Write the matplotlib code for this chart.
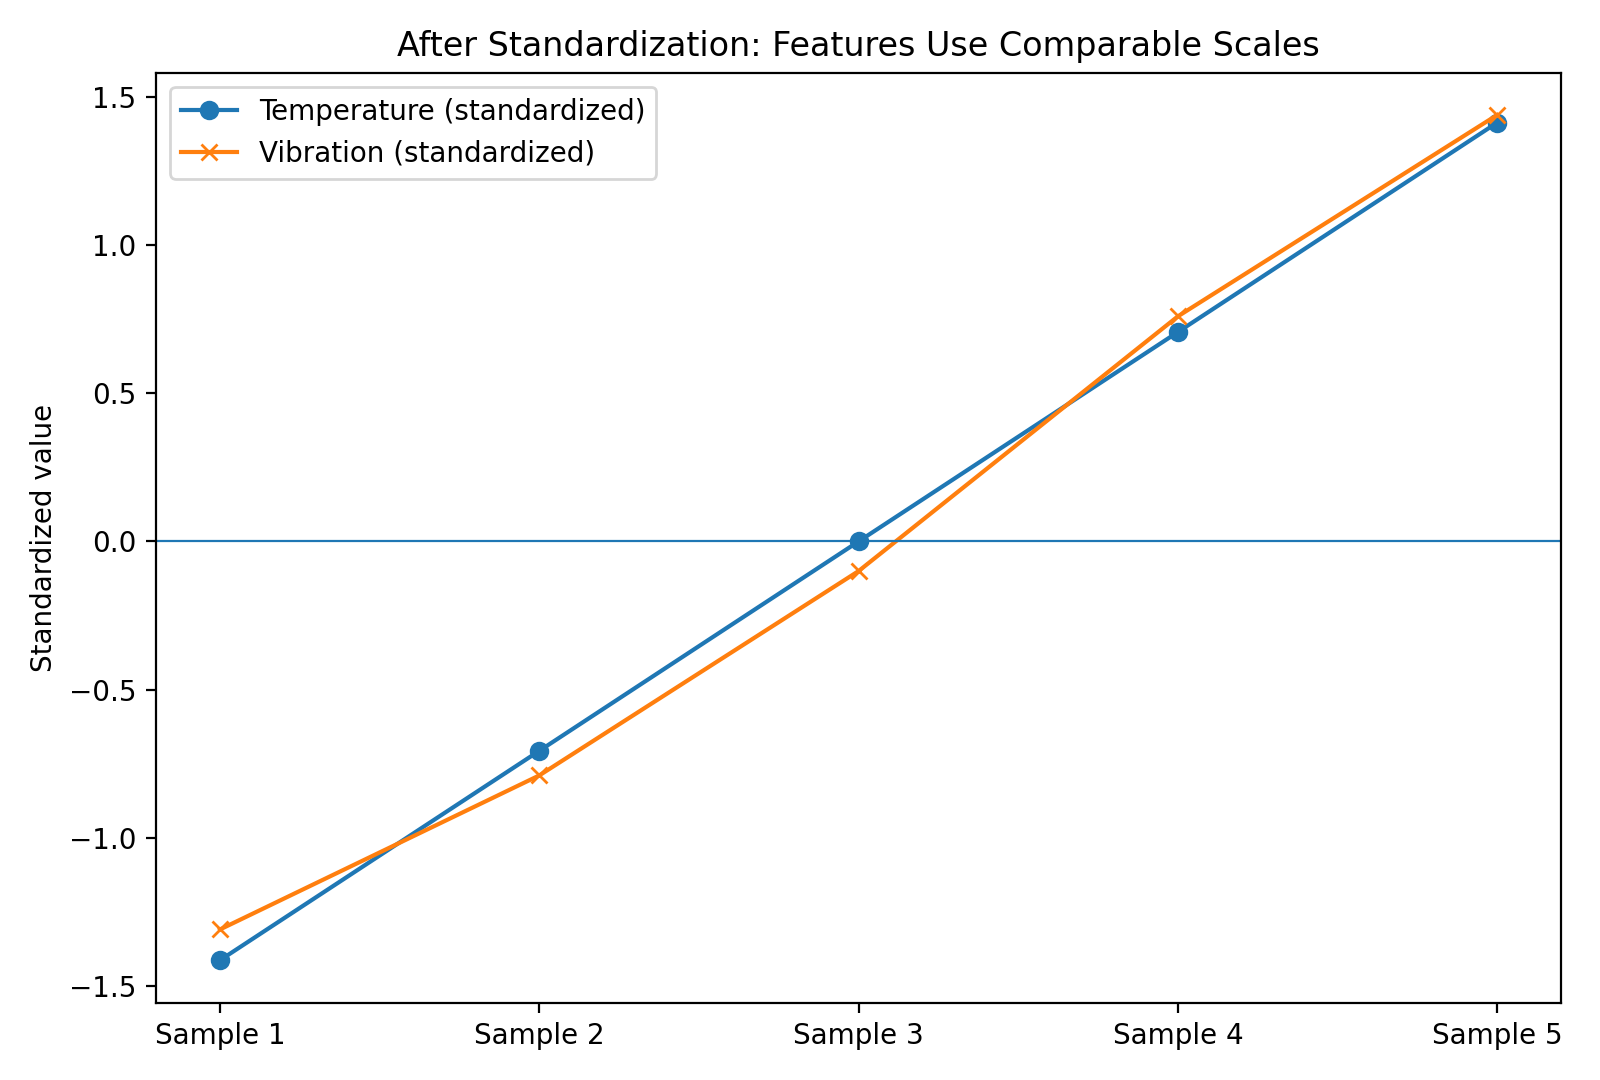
import matplotlib
matplotlib.use("Agg")
import matplotlib.pyplot as plt
import numpy as np

samples = ["Sample 1", "Sample 2", "Sample 3", "Sample 4", "Sample 5"]
temperature_std = [-1.414, -0.707, 0.0, 0.707, 1.414]
vibration_std = [-1.31, -0.79, -0.10, 0.76, 1.44]

fig, ax = plt.subplots(figsize=(8, 5.4), dpi=200)
x = np.arange(len(samples))
ax.plot(x, temperature_std, marker="o", label="Temperature (standardized)")
ax.plot(x, vibration_std, marker="x", label="Vibration (standardized)")
ax.axhline(0, linewidth=0.8)
ax.set_xticks(x)
ax.set_xticklabels(samples)
ax.set_ylabel("Standardized value")
ax.set_title("After Standardization: Features Use Comparable Scales")
ax.legend(loc="upper left")
plt.tight_layout()
plt.savefig("out.png", dpi=200)
